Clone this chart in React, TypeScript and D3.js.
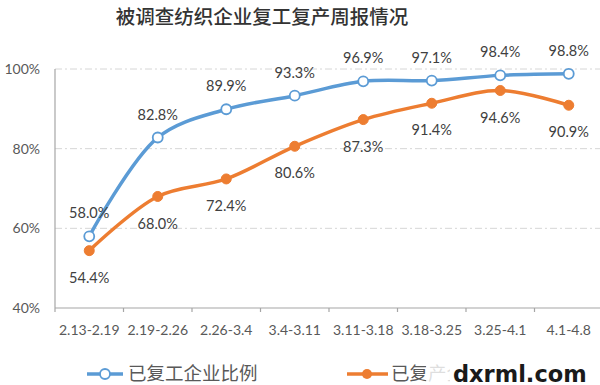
import React from 'react';
import * as d3 from 'd3';

const categories = ['2.13-2.19', '2.19-2.26', '2.26-3.4', '3.4-3.11', '3.11-3.18', '3.18-3.25', '3.25-4.1', '4.1-4.8'];
const resumedWork = [58.0, 82.8, 89.9, 93.3, 96.9, 97.1, 98.4, 98.8];
const resumedProduction = [54.4, 68.0, 72.4, 80.6, 87.3, 91.4, 94.6, 90.9];
const yTicks = [40, 60, 80, 100];
const seriesNames = ['已复工企业比例', '已复产企业比例'];
const title = '被调查纺织企业复工复产周报情况';

const width = 600;
const height = 385;
const margin = { top: 69, right: -3, bottom: 77, left: 55 };

const BLUE = '#5b9bd5';
const ORANGE = '#ed7d31';
const FONT = 'Lato, "Noto Sans CJK SC", sans-serif';
const CJK = '"Noto Sans CJK SC", sans-serif';

const App: React.FC = () => {
  const x = d3.scaleBand<string>()
    .domain(categories)
    .range([margin.left, width - margin.right]);

  const y = d3.scaleLinear()
    .domain([40, 100])
    .range([height - margin.bottom, margin.top]);

  const cx = (i: number) => (x(categories[i]) || 0) + x.bandwidth() / 2;

  const line = d3.line<number>()
    .x((_, i) => cx(i))
    .y(d => y(d))
    .curve(d3.curveCatmullRom.alpha(0.5));

  const axisY = y(40);

  return (
    <svg width={width} height={height} style={{ position: 'absolute', left: 0, top: 0, background: '#fff' }}>
      <defs>
        <clipPath id="legend-clip">
          <rect x={380} y={355} width={70} height={30} />
        </clipPath>
      </defs>

      <text x={262} y={24} textAnchor="middle" fontSize={19.5} fontWeight={500} fill="#333"
        fontFamily={CJK}>{title}</text>

      {/* grid */}
      {yTicks.filter(t => t > 40).map(t => (
        <line key={t} x1={margin.left} x2={width} y1={y(t)} y2={y(t)}
          stroke="#d6d6d6" strokeWidth={1} strokeDasharray="7,3,2,3" />
      ))}

      {/* y tick labels */}
      {yTicks.map(t => (
        <text key={t} x={40} y={y(t)} dy="0.35em" textAnchor="end" fontSize={14}
          fill="#595959" fontFamily={FONT}>{t}%</text>
      ))}

      {/* axes */}
      <line x1={margin.left} x2={margin.left} y1={y(100)} y2={axisY} stroke="#a6a6a6" strokeWidth={1.2} />
      <line x1={margin.left} x2={width} y1={axisY} y2={axisY} stroke="#a6a6a6" strokeWidth={1.2} />
      {categories.map(c => (
        <line key={c} x1={x(c)} x2={x(c)} y1={axisY} y2={axisY + 4} stroke="#a6a6a6" strokeWidth={1.2} />
      ))}
      {categories.map((c, i) => (
        <text key={c} x={cx(i)} y={axisY + 22} dy="0.35em" textAnchor="middle" fontSize={14}
          fill="#595959" fontFamily={FONT}>{c}</text>
      ))}

      {/* series */}
      <path d={line(resumedProduction) || ''} fill="none" stroke={ORANGE} strokeWidth={3.5} strokeLinecap="round" />
      <path d={line(resumedWork) || ''} fill="none" stroke={BLUE} strokeWidth={3.5} strokeLinecap="round" />

      {resumedWork.map((v, i) => (
        <circle key={i} cx={cx(i)} cy={y(v)} r={5} fill="#fff" stroke={BLUE} strokeWidth={1.8} />
      ))}
      {resumedProduction.map((v, i) => (
        <circle key={i} cx={cx(i)} cy={y(v)} r={5} fill={ORANGE} stroke={ORANGE} strokeWidth={1} />
      ))}

      {/* data labels */}
      {resumedWork.map((v, i) => (
        <text key={i} x={cx(i)} y={y(v) - 23} dy="0.35em" textAnchor="middle" fontSize={14.5}
          fill="#404040" fontFamily={FONT}>{v.toFixed(1)}%</text>
      ))}
      {resumedProduction.map((v, i) => (
        <text key={i} x={cx(i)} y={y(v) + 27} dy="0.35em" textAnchor="middle" fontSize={14.5}
          fill="#404040" fontFamily={FONT}>{v.toFixed(1)}%</text>
      ))}

      {/* legend */}
      <g>
        <line x1={87} x2={123} y1={374} y2={374} stroke={BLUE} strokeWidth={3.5} />
        <circle cx={105} cy={374} r={5} fill="#fff" stroke={BLUE} strokeWidth={1.8} />
        <text x={128} y={374} dy="0.35em" fontSize={18.5} fill="#595959"
          fontFamily={CJK}>{seriesNames[0]}</text>

        <line x1={347} x2={388} y1={374} y2={374} stroke={ORANGE} strokeWidth={3.5} />
        <circle cx={367} cy={374} r={5} fill={ORANGE} />
        {/* second label is mostly hidden under the watermark in the reference */}
        <text x={391} y={374} dy="0.35em" fontSize={18.5} fill="#595959"
          fontFamily={CJK} clipPath="url(#legend-clip)">{seriesNames[1]}</text>
      </g>

      {/* watermark */}
      <rect x={426} y={360} width={174} height={25} fill="#fff" fillOpacity={0.8} />
      <text x={453} y={374} dy="0.35em" fontSize={22.5} fontWeight="bold" fill="#1a1a1a"
        fontFamily='"DejaVu Sans", sans-serif'>dxrml.com</text>
    </svg>
  );
};

export default App;
